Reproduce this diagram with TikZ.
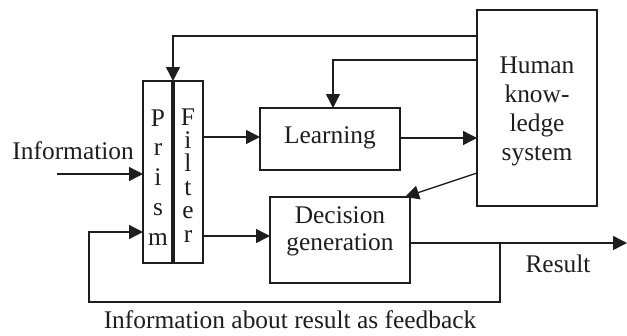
\documentclass[tikz,border=0pt]{standalone}
\usepackage{fontspec}
\setmainfont{Liberation Serif}
\usetikzlibrary{arrows.meta,calc}
\definecolor{ink}{HTML}{1E1E1E}
\tikzset{
 lw/.style={line width=1.4bp, draw=ink},
 box/.style={draw=ink, line width=1.4bp, inner sep=0pt, outer sep=0pt},
 txt/.style={font=\fontsize{25.5}{30}\selectfont, text=ink, inner sep=0pt, anchor=base},
 arr/.style={lw, -{Triangle[length=14bp,width=14bp]}},
}
\begin{document}
\begin{tikzpicture}[x=1bp,y=-1bp]
\useasboundingbox (0,0) rectangle (627,335);
% boxes
\node[box, minimum width=30bp, minimum height=182bp] (prism) at (158,172) {};
\node[box, minimum width=30bp, minimum height=182bp] (filter) at (188,172) {};
\draw[line width=3.4bp, draw=ink] (prism.north east) -- (prism.south east);
\node[box, minimum width=140bp, minimum height=62bp] (learn) at (330,139) {};
\node[box, minimum width=140bp, minimum height=86bp] (dec) at (340,240) {};
\node[box, minimum width=120bp, minimum height=196bp] (hum) at (537,108) {};
% letters
\foreach \c [count=\i] in {P,r,i,s,m}
  \node[txt] (p\i) at (158,{126+29.75*(\i-1)}) {\c};
\foreach \c [count=\i] in {F,i,l,t,e,r}
  \node[txt] (f\i) at (188,{125+23.4*(\i-1)}) {\c};
% texts
\node[txt] (learnt) at (330,143) {Learning};
\node[txt] (dec1) at (340,223) {Decision};
\node[txt] (dec2) at (340,250) {generation};
\node[txt] (h1) at (537,73) {Human};
\node[txt] (h2) at (537,102) {know-};
\node[txt] (h3) at (537,131) {ledge};
\node[txt] (h4) at (537,160) {system};
\node[txt, anchor=base east] (info) at (134,159) {Information};
\node[txt] (result) at (558,272) {Result};
\node[txt] (fbtxt) at (290,328) {Information about result as feedback};
% connectors
\coordinate (ht) at ($(hum.north west)+(0,26)$);
\draw[arr] (ht) -| (prism.north east);
\coordinate (hl) at ($(hum.north west)+(0,50)$);
\coordinate (lt) at ($(learn.north)+(3,0)$);
\draw[arr] (hl) -| (lt);
\coordinate (lw) at ($(learn.west)+(0,-2)$);
\draw[arr] (filter.east |- lw) -- (lw);
\coordinate (le) at ($(learn.east)+(0,-1)$);
\draw[arr] (le) -- (hum.west |- le);
\coordinate (pi) at ($(prism.west)+(0,2)$);
\coordinate (infs) at (57,174);
\draw[arr] (infs) -- (pi);
\coordinate (dw) at ($(dec.west)+(0,-4)$);
\draw[arr] (filter.east |- dw) -- (dw);
\coordinate (de) at ($(dec.east)+(0,3)$);
\coordinate (res) at (627,243);
\draw[arr] (de) -- (res);
\coordinate (hd) at ($(hum.west)+(0,65)$);
\coordinate (dt) at ($(dec.north east)+(-5,0)$);
\draw[arr] (hd) -- (dt);
\coordinate (tap) at (500,243);
\coordinate (fbl) at (89,302);
\coordinate (pf) at ($(prism.west)+(0,60)$);
\draw[arr] (tap) |- (fbl) |- (pf);
\end{tikzpicture}
\end{document}
